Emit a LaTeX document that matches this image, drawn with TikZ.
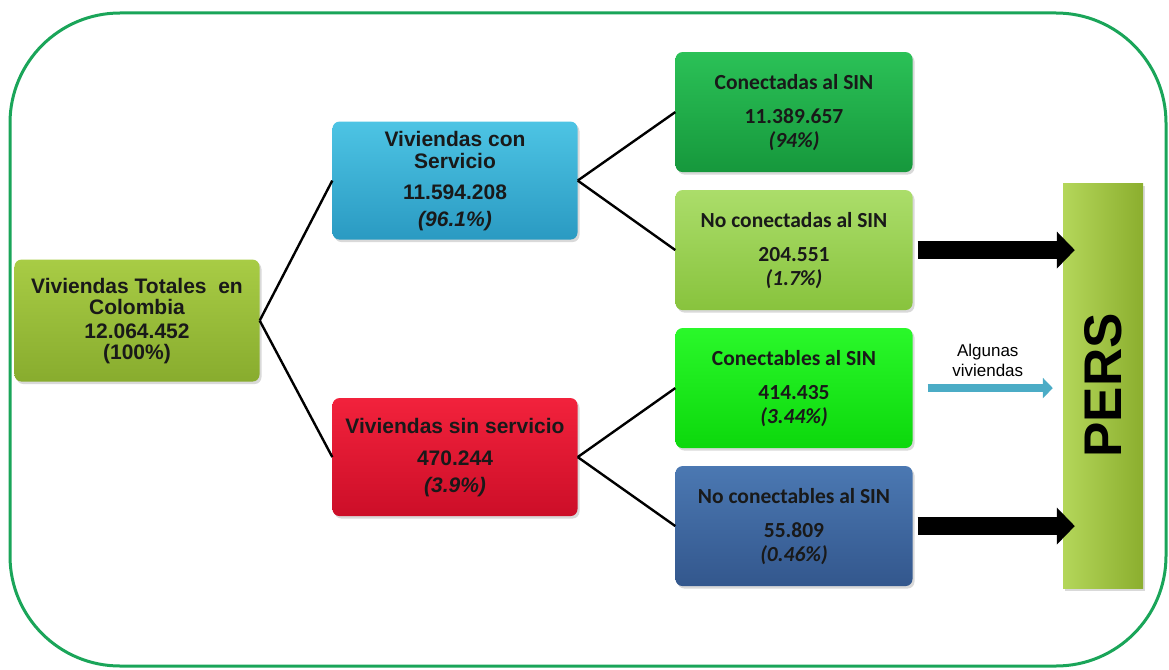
\documentclass[tikz,border=0pt]{standalone}
\usepackage{fontspec}
\setmainfont{Liberation Sans}
\newfontfamily\calibri{Carlito}
\usepackage{tikz-qtree}
\usepackage{tikz}
\usetikzlibrary{arrows.meta,shadows}

\definecolor{frameGreen}{HTML}{1AA559}
\definecolor{arrowBlue}{HTML}{4BACC6}

\tikzset{
  box/.style={rounded corners=7pt, align=center, inner sep=0pt, text=black!90,
    drop shadow={opacity=0.3, shadow xshift=2pt, shadow yshift=-2.5pt}},
  rootbox/.style={box, minimum width=245pt, minimum height=122pt,
    top color=olive1, bottom color=olive2, font=\bfseries\fontsize{21}{21}\selectfont},
  midbox/.style={box, minimum width=245pt, minimum height=118pt,
    font=\bfseries\fontsize{21}{22}\selectfont},
  leafbox/.style={box, minimum width=237pt, minimum height=120pt,
    font=\calibri\bfseries\fontsize{21.5}{24}\selectfont},
  persbox/.style={minimum width=80pt, minimum height=405pt, inner sep=0pt,
    left color=persL, right color=persR,
    drop shadow={opacity=0.3, shadow xshift=2pt, shadow yshift=-2.5pt}},
  bigarrow/.style={line width=18pt, -{Triangle[length=18pt,width=36pt]}},
  thinarrow/.style={arrowBlue, line width=8pt, -{Triangle[length=10pt,width=20pt]}}
}
\definecolor{olive1}{HTML}{A8CC45}
\definecolor{olive2}{HTML}{88AC2E}
\definecolor{cyan1}{HTML}{4DC4E4}
\definecolor{cyan2}{HTML}{2A9AC2}
\definecolor{red1}{HTML}{F2223C}
\definecolor{red2}{HTML}{CC0E28}
\definecolor{green1}{HTML}{2BC157}
\definecolor{green2}{HTML}{16983C}
\definecolor{lgreen1}{HTML}{ABDD6A}
\definecolor{lgreen2}{HTML}{88C33D}
\definecolor{bgreen1}{HTML}{2AF82A}
\definecolor{bgreen2}{HTML}{0CD80C}
\definecolor{steel1}{HTML}{4B78B2}
\definecolor{steel2}{HTML}{33578D}
\definecolor{persL}{HTML}{B4D65A}
\definecolor{persR}{HTML}{8BAE2E}

\begin{document}
\begin{tikzpicture}[x=1pt,y=1pt]
\useasboundingbox (0,0) rectangle (1169,-669);
\draw[frameGreen, line width=3pt, rounded corners=110pt] (10,-13) rectangle (1166,-666);

\begin{scope}[shift={(137,-354)}, grow'=right,
    level 1/.style={level distance=318pt}, level 2/.style={level distance=339pt},
    sibling distance=18pt,
    edge from parent/.style={draw, line width=2.4pt,
      edge from parent path={(\tikzparentnode.east) -- (\tikzchildnode.west)}}]
\Tree [.\node[rootbox, yshift=-5pt](total){Viviendas Totales\ \ en\\Colombia\\[3pt]12.064.452\\(100\%)};
        [.\node[midbox, yshift=-10pt, top color=cyan1, bottom color=cyan2](con){Viviendas con\\Servicio\\[9pt]11.594.208\\[5pt]\textit{(96.1\%)}};
            \node[leafbox, top color=green1, bottom color=green2](conectadas){Conectadas al SIN\\[10pt]11.389.657\\\textit{(94\%)}};
            \node[leafbox, top color=lgreen1, bottom color=lgreen2](noconectadas){No conectadas al SIN\\[10pt]204.551\\\textit{(1.7\%)}}; ]
        [.\node[midbox, top color=red1, bottom color=red2](sin){Viviendas sin servicio\\[10pt]470.244\\[5pt]\textit{(3.9\%)}};
            \node[leafbox, top color=bgreen1, bottom color=bgreen2](conectables){Conectables al SIN\\[10pt]414.435\\\textit{(3.44\%)}};
            \node[leafbox, top color=steel1, bottom color=steel2](noconectables){No conectables al SIN\\[10pt]55.809\\\textit{(0.46\%)}}; ] ]
\end{scope}

\node[persbox] (pers) at (1103,-385.5) {};
\node[rotate=90, font=\bfseries\fontsize{53}{53}\selectfont] (perslabel) at (pers.center) {PERS};

\draw[bigarrow, shorten <=5pt, shorten >=-12pt] (noconectadas.east) -- (noconectadas.east -| pers.west);
\draw[bigarrow, shorten <=5pt, shorten >=-12pt] (noconectables.east) -- (noconectables.east -| pers.west);
\draw[thinarrow, shorten <=15pt, shorten >=10pt] (conectables.east) -- (conectables.east -| pers.west)
  node[midway, above=4pt, text=black, align=center, font=\fontsize{17}{20}\selectfont] (algunas) {Algunas\\viviendas};
\end{tikzpicture}
\end{document}
